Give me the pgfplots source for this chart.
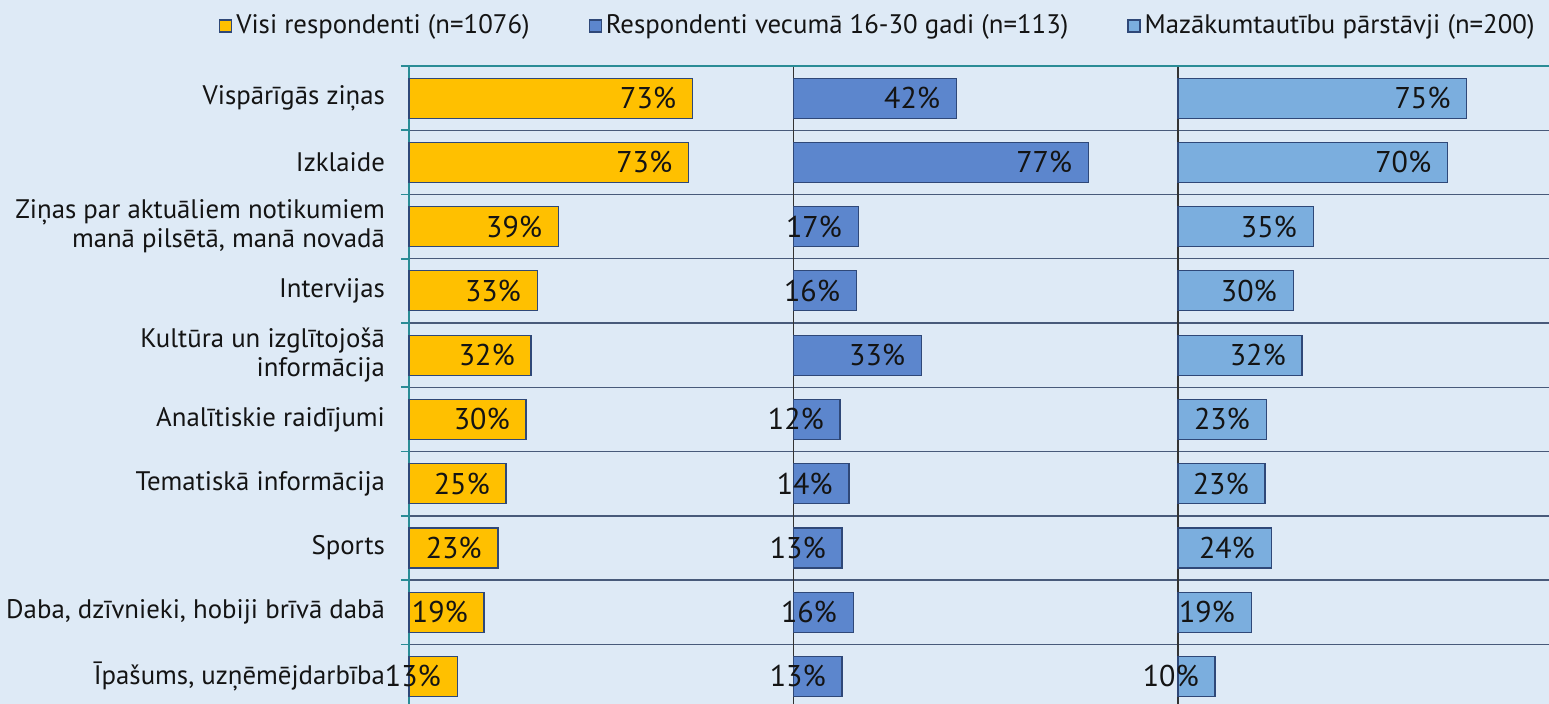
\documentclass[border=0pt]{standalone}
\usepackage{fontspec}
\setmainfont{PT Sans}
\usepackage{pgfplots}
\pgfplotsset{compat=1.18}
\definecolor{bgc}{RGB}{222,234,246}
\definecolor{yel}{RGB}{255,192,0}
\definecolor{blu}{RGB}{92,134,205}
\definecolor{lblu}{RGB}{123,174,222}
\definecolor{edgec}{RGB}{47,72,120}
\definecolor{gridc}{RGB}{72,90,122}
\definecolor{tealc}{RGB}{42,140,150}
\definecolor{txt}{RGB}{20,20,20}
\pgfplotsset{
  panel/.style={
    scale only axis, width=192.5pt, height=321.3pt, anchor=south west,
    xmin=0, xmax=100, ymin=-0.5, ymax=9.5,
    xbar, bar width=20pt, bar shift=0pt,
    axis x line=none, axis y line*=left,
    ytick={0,...,9}, major tick length=0pt,
    minor ytick={-0.5,0.5,...,9.5},
    tick align=outside, minor tick length=0pt,
    yminorgrids=true,
    minor grid style={gridc, line width=0.7pt},
    clip=false,
    point meta=explicit symbolic,
    nodes near coords={\pgfplotspointmeta\%},
    every node near coord/.append style={anchor=east, xshift=-4.5pt, text=txt,
      font=\fontsize{15}{15}\selectfont},
    yticklabels={},
  },
  bars/.style={draw=edgec, line width=0.6pt, fill=#1,
    legend image code/.code={\draw[fill=#1, draw=edgec, line width=0.6pt] (0pt,-3pt) rectangle (6pt,3pt);}},
}
\begin{document}
\begin{tikzpicture}[x=1pt,y=1pt]
\fill[bgc] (0,0) rectangle (774.5,352);
% panel 1
\begin{axis}[panel, at={(204.5pt,-2.3pt)},
  y axis line style={tealc, line width=0.8pt},
  minor tick length=4pt, minor tick style={tealc, line width=0.8pt},
  yticklabels={{Īpašums, uzņēmējdarbība},{Daba, dzīvnieki, hobiji brīvā dabā},{Sports},{Tematiskā informācija},{Analītiskie raidījumi},{Kultūra un izglītojošā\\informācija},{Intervijas},{Ziņas par aktuāliem notikumiem\\manā pilsētā, manā novadā},{Izklaide},{Vispārīgās ziņas}},
  yticklabel style={align=right, text=txt, font=\fontsize{13.4}{14.5}\selectfont, xshift=-8.5pt},
  legend style={at={(2.9506,1.0623)}, anchor=east, draw=none, fill=none,
    legend columns=3, font=\fontsize{13.4}{14.5}\selectfont, text=txt,
    /tikz/every odd column/.append style={column sep=0pt},
    /tikz/every even column/.append style={column sep=27.5pt}},
  legend cell align=left,
]
\addplot[bars=yel] coordinates {
(12.5,0)[13] (19.5,1)[19] (23.1,2)[23] (25.2,3)[25] (30.4,4)[30]
(31.7,5)[32] (33.3,6)[33] (38.8,7)[39] (72.6,8)[73] (73.6,9)[73]};
\addlegendentry{Visi respondenti (n=1076)}
\addlegendimage{bars=blu}
\addlegendentry{Respondenti vecumā 16-30 gadi (n=113)}
\addlegendimage{bars=lblu}
\addlegendentry{Mazākumtautību pārstāvji (n=200)}
\end{axis}
% panel 2
\begin{axis}[panel, at={(396.75pt,-2.3pt)},
  y axis line style={black!80, line width=0.7pt}]
\addplot[bars=blu] coordinates {
(12.6,0)[13] (15.5,1)[16] (12.6,2)[13] (14.4,3)[14] (12.1,4)[12]
(33.2,5)[33] (16.3,6)[16] (16.8,7)[17] (76.6,8)[77] (42.3,9)[42]};
\end{axis}
% panel 3
\begin{axis}[panel, at={(589pt,-2.3pt)},
  y axis line style={black!80, line width=0.7pt}]
\addplot[bars=lblu] coordinates {
(9.6,0)[10] (19.0,1)[19] (24.2,2)[24] (22.6,3)[23] (22.9,4)[23]
(32.2,5)[32] (29.9,6)[30] (35.1,7)[35] (70.0,8)[70] (75.0,9)[75]};
\end{axis}
\draw[tealc, line width=0.8pt] (200.5,319) -- (774.5,319);
\pgfresetboundingbox
\path[use as bounding box] (0,0) rectangle (774.5,352);
\end{tikzpicture}
\end{document}
